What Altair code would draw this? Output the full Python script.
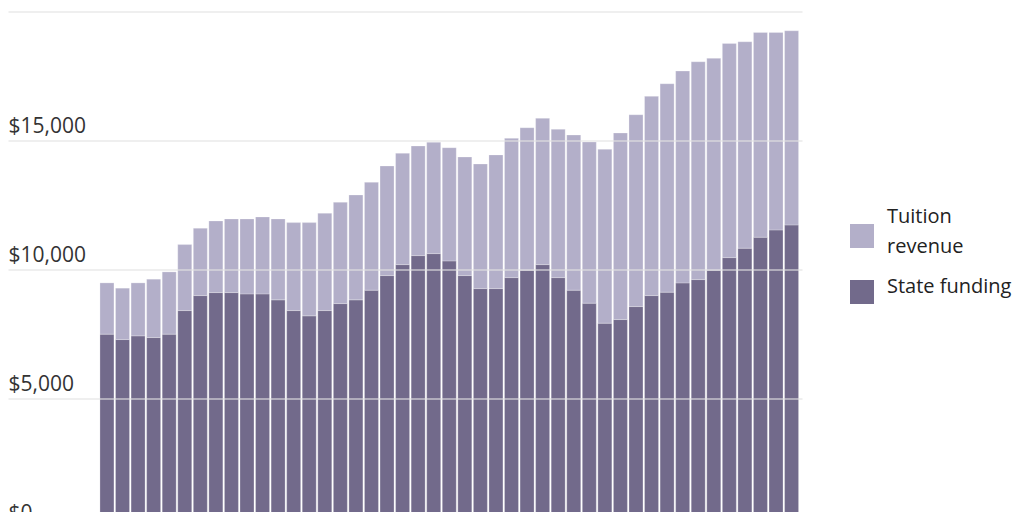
import altair as alt
import pandas as pd

years = list(range(1980, 2025))

state_funding = [
    7494, 7285, 7428, 7363, 7494, 8408, 8989, 9105, 9105, 9055,
    9055, 8823, 8408, 8203, 8408, 8679, 8823, 9198, 9764, 10190,
    10539, 10616, 10333, 9764, 9260, 9260, 9686, 9973, 10190, 9686,
    9198, 8695, 7920, 8060, 8563, 8989, 9121, 9481, 9609, 9973,
    10461, 10825, 11251, 11534, 11727,
]

tuition_revenue = [
    1987, 1991, 2053, 2261, 2413, 2557, 2611, 2777, 2855, 2905,
    2982, 3137, 3409, 3614, 3772, 3927, 4066, 4183, 4248, 4314,
    4248, 4314, 4388, 4597, 4830, 5182, 5399, 5523, 5670, 5748,
    6015, 6247, 6739, 7231, 7436, 7723, 8079, 8211, 8443, 8211,
    8303, 8002, 7938, 7655, 7526,
]

series = ["Tuition revenue", "State funding"]
legend_labels = ["Tuition\nrevenue", "State funding"]
colors = ["#b3afc9", "#726a8b"]

df = pd.concat([
    pd.DataFrame({"year": years, "value": state_funding,
                  "source": "State funding", "stack_pos": 0}),
    pd.DataFrame({"year": years, "value": tuition_revenue,
                  "source": "Tuition revenue", "stack_pos": 1}),
])
legend_df = pd.DataFrame({"source": series, "label": legend_labels})

font = "Open Sans"
color_scale = alt.Scale(domain=series, range=colors)

bars = alt.Chart(df).mark_bar(
    width=14, stroke="#ffffff", strokeWidth=0.5, strokeOpacity=0.5
).encode(
    x=alt.X("year:Q", axis=None,
            scale=alt.Scale(domain=[1973.64, 2024.67], nice=False,
                            zero=False, padding=0)),
    y=alt.Y(
        "value:Q",
        stack="zero",
        scale=alt.Scale(domain=[0, 20000], nice=False),
        axis=alt.Axis(
            title=None,
            values=[0, 5000, 10000, 15000, 20000],
            format="$,.0f",
            domain=False,
            ticks=False,
            tickSize=0,
            labelPadding=0,
            labelAlign="left",
            labelBaseline="alphabetic",
            labelOffset=-8,
            labelFont=font,
            labelFontSize=21,
            labelColor="#333333",
            gridColor="#e3e3e3",
            gridOpacity=0.75,
            gridWidth=1.5,
            zindex=1,
        ),
    ),
    color=alt.Color("source:N", scale=color_scale, legend=None),
    order=alt.Order("stack_pos:Q"),
)

# hand-made legend to the right of the bars, so the two-line label
# gets the reference's line spacing
legend_y = alt.Y("source:N", axis=None,
                 scale=alt.Scale(type="point", domain=series,
                                 range=[224.5, 280.5], padding=0))

swatches = alt.Chart(legend_df).mark_square(size=576, opacity=1).encode(
    x=alt.value(854),
    y=legend_y,
    color=alt.Color("source:N", scale=color_scale, legend=None),
)

text_style = dict(align="left", baseline="middle", font=font, fontSize=20,
                  lineHeight=30, lineBreak="\n", color="#222222")

# vega puts the first line of a wrapped label on the anchor, so the
# two-line one is lifted to sit centred on its swatch
labels_two = alt.Chart(legend_df).transform_filter(
    "indexof(datum.label, '\\n') >= 0"
).mark_text(dy=-19.5, **text_style).encode(
    x=alt.value(879), y=legend_y, text="label:N",
)

labels_one = alt.Chart(legend_df).transform_filter(
    "indexof(datum.label, '\\n') < 0"
).mark_text(dy=-5.5, **text_style).encode(
    x=alt.value(879), y=legend_y, text="label:N",
)

chart = alt.layer(bars, swatches, labels_two, labels_one).resolve_scale(
    y="independent"
).properties(
    width=794,
    height=516,
    padding={"left": 0, "top": 3.5, "right": 212, "bottom": 0},
    autosize=alt.AutoSizeParams(type="none"),
).configure_view(stroke=None)

chart.save("out.html", embed_options={"renderer": "svg", "actions": False})
